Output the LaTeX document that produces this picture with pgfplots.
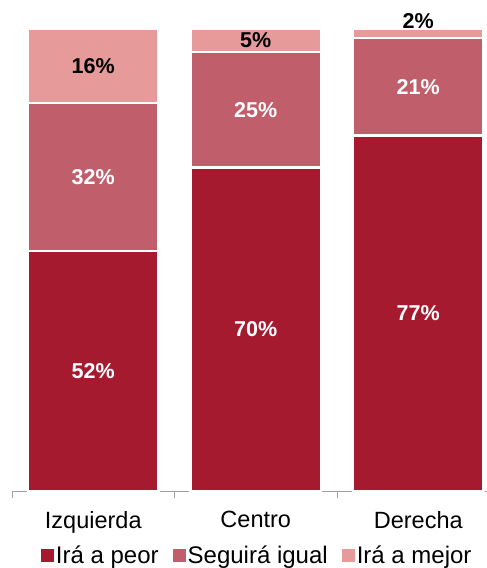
\documentclass[border=0pt]{standalone}
\usepackage{pgfplots}
\pgfplotsset{compat=1.18}
\usepackage{pgfplotstable}
\usepackage{fontspec}
\setmainfont{Liberation Sans}
\definecolor{cpeor}{RGB}{166,26,48}
\definecolor{cigual}{RGB}{192,94,107}
\definecolor{cmejor}{RGB}{230,154,154}
\definecolor{axgray}{RGB}{160,160,160}
\pgfplotstableread{
x peor igual mejor dy
0 52 32 16 0
1 70 25 5 0
2 77 21 2 12.5
}\datatable
\begin{document}
\begin{tikzpicture}
\clip (-12pt,-77pt) rectangle (475pt,491pt);
\begin{axis}[
  scale only axis, width=487.5pt, height=462pt,
  ybar stacked, bar width=130.5pt,
  xmin=-0.5, xmax=2.5, ymin=0, ymax=100,
  axis x line*=bottom, axis y line=none,
  x axis line style={draw=axgray, line width=0.8pt},
  xtick={0,1,2}, xticklabels={Izquierda,Centro,Derecha},
  major tick length=0pt,
  minor xtick={-0.5,0.5,1.5,2.5}, minor tick length=7pt,
  tick align=outside,
  minor tick style={draw=axgray, line width=0.8pt},
  xticklabel style={font=\fontsize{23.5}{27}\selectfont, yshift=-17pt},
  legend style={draw=none, at={(0.503,-0.139)}, anchor=center, legend columns=3,
    font=\fontsize{24}{28}\selectfont,
    /tikz/every even column/.append style={column sep=12pt}},
  legend image code/.code={\path[#1,draw=none] (0pt,-6.5pt) rectangle (13pt,6.5pt);},
  nodes near coords={\textbf{\pgfmathprintnumber[assume math mode=true]{\pgfplotspointmeta}\%}},
]
\addplot[fill=cpeor, draw=white, line width=2.5pt,
  every node near coord/.append style={text=white, draw=none, anchor=center, font=\fontsize{21.5}{25}\selectfont}]
  table[x=x, y=peor, meta=peor]{\datatable};
\addplot[fill=cigual, draw=white, line width=2.5pt,
  every node near coord/.append style={text=white, draw=none, anchor=center, font=\fontsize{21.5}{25}\selectfont}]
  table[x=x, y=igual, meta=igual]{\datatable};
\addplot[fill=cmejor, draw=white, line width=2.5pt,
  visualization depends on={\thisrow{dy} \as \d},
  every node near coord/.append style={text=black, draw=none, anchor=center, font=\fontsize{21.5}{25}\selectfont, yshift={\d*1pt}}]
  table[x=x, y=mejor, meta=mejor]{\datatable};
\legend{Irá a peor, Seguirá igual, Irá a mejor}
\end{axis}
\end{tikzpicture}
\end{document}
